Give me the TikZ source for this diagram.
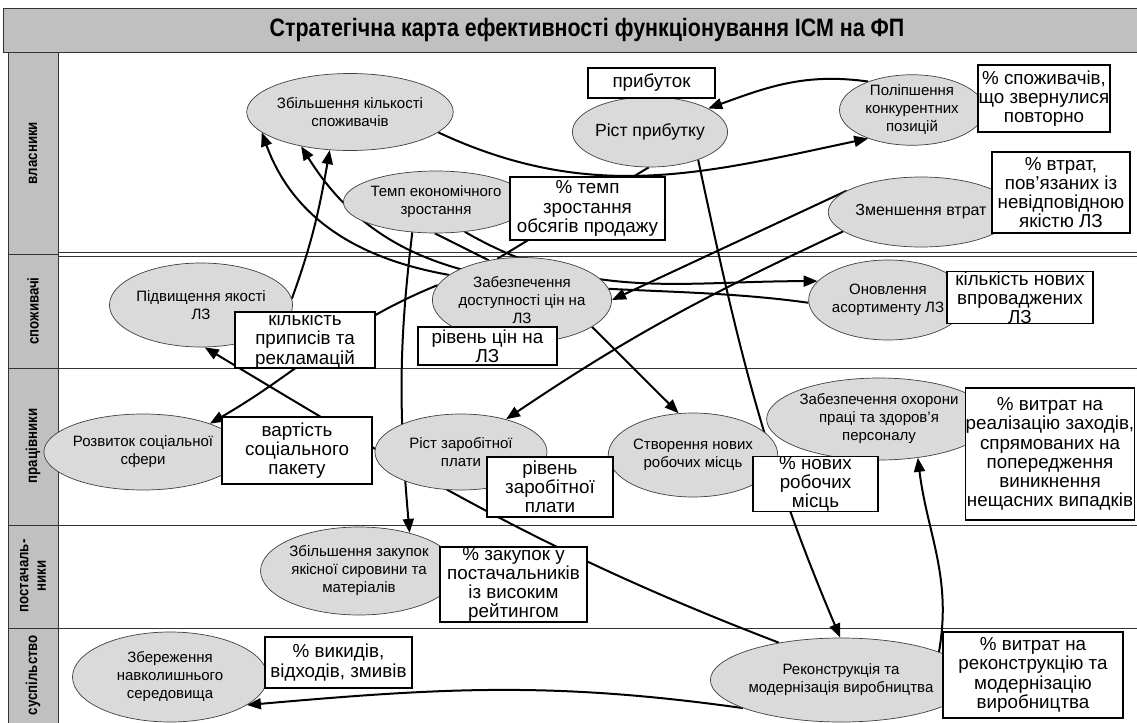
\documentclass[tikz,border=0pt]{standalone}
\usepackage{fontspec}
\setmainfont{Liberation Sans}
\newfontfamily\narrowfont[FakeStretch=0.85]{Liberation Sans}
\usetikzlibrary{arrows.meta,shapes.geometric}
\definecolor{hdr}{RGB}{192,192,192}
\definecolor{ell}{RGB}{218,218,218}
\pgfdeclarelayer{grid}
\pgfdeclarelayer{edges}
\pgfsetlayers{grid,edges,main}
\begin{document}
\begin{tikzpicture}[x=0.5pt,y=-0.5pt,
  goal/.style n args={2}{ellipse, draw=black!75, line width=0.35pt, fill=ell,
    minimum width=#1*0.5pt, minimum height=#2*0.5pt, inner sep=0pt, align=center,
    font=\fontsize{7.5}{9}\selectfont},
  kpi/.style n args={2}{rectangle, draw=black, line width=0.75pt, fill=white,
    minimum width=#1*0.5pt, minimum height=#2*0.5pt, inner sep=0pt, align=center,
    font=\fontsize{9.4}{9.6}\selectfont},
  link/.style={line width=1pt, -{Triangle[length=7pt,width=5.5pt]}},
  plain/.style={line width=1pt},
  lane/.style={font=\narrowfont\bfseries\fontsize{7.8}{8.8}\selectfont, rotate=90, align=center},
  rule/.style={draw=black!80, line width=0.5pt}
]
\useasboundingbox (0,0) rectangle (1137,723);

% ---------- grid ----------
\begin{pgfonlayer}{grid}
\fill[white] (0,0) rectangle (1137,723);
\fill[hdr] (3,8) rectangle (1137,52);
\fill[hdr] (8,52) rectangle (58,723);
\draw[rule] (3,8) -- (1137,8);
\draw[rule] (3,52) -- (1137,52);
\draw[rule] (3,8) -- (3,52);
\draw[rule] (8,52) -- (8,723);
\draw[rule] (58,52) -- (58,723);
\draw[rule] (8,254) -- (58,254);
\draw[rule] (58,252.5) -- (1137,252.5);
\draw[rule] (58,256) -- (1137,256);
\draw[rule] (8,368) -- (1137,368);
\draw[rule] (8,525) -- (1137,525);
\draw[rule] (8,628) -- (1137,628);
\end{pgfonlayer}

% ---------- title and lanes ----------
\node[font=\narrowfont\bfseries\fontsize{12.6}{14}\selectfont] (title) at (587,30)
  {Стратегічна карта ефективності функціонування ІСМ на ФП};
\node[lane] (l1) at (33,153) {власники};
\node[lane] (l2) at (33,311) {споживачі};
\node[lane] (l3) at (33,446) {працівники};
\node[lane] (l4) at (33,576) {постачаль-\\ники};
\node[lane] (l5) at (33,675) {суспільство};

% ---------- goals ----------
\node[goal={174}{77}] (zbil) at (350,112) {Збільшення кількості\\споживачів};
\node[goal={154}{70}, font=\fontsize{8.8}{10}\selectfont] (rist) at (650,132) {Ріст прибутку};
\node[goal={145}{70}] (polip) at (912,110) {Поліпшення\\конкурентних\\позицій};
\node[goal={148}{62}] (temp) at (436,202) {Темп економічного\\зростання};
\node[goal={144}{70}, font=\fontsize{8}{9}\selectfont] (zmen) at (921,212) {Зменшення втрат};
\node[goal={152}{84}] (pidv) at (201,305) {Підвищення якості\\ЛЗ};
\node[goal={151}{85}] (zabezp) at (522,300) {Забезпечення\\доступності цін на\\ЛЗ};
\node[goal={145}{80}] (onovl) at (888,300) {Оновлення\\асортименту ЛЗ};
\node[goal={170}{76}] (rozv) at (143,452) {Розвиток соціальної\\сфери};
\node[goal={172}{76}] (zarob) at (461,452) {Ріст заробітної\\плати};
\node[goal={160}{84}] (stvor) at (693,455) {Створення нових\\робочих місць};
\node[goal={178}{82}] (ohor) at (879,419) {Забезпечення охорони\\праці та здоров'я\\персоналу};
\node[goal={162}{88}] (zakup) at (359,571) {Збільшення закупок\\якісної сировини та\\матеріалів};
\node[goal={195}{90}] (zber) at (170,677) {Збереження\\навколишнього\\середовища};
\node[goal={202}{84}] (rekon) at (841,680) {Реконструкція та\\модернізація виробництва};

% ---------- indicators ----------
\node[kpi={127}{30}] (kprib) at (651.5,83) {прибуток};
\node[kpi={132}{67}] (kspozh) at (1044,98.5) {\% споживачів,\\що звернулися\\повторно};
\node[kpi={155}{63}] (ktemp) at (587.5,208.5) {\% темп\\зростання\\обсягів продажу};
\node[kpi={138}{81}] (kvtrat) at (1061,192.5) {\% втрат,\\пов'язаних із\\невідповідною\\якістю ЛЗ};
\node[kpi={146}{51}] (knovyh) at (1020,297.5) {кількість нових\\впроваджених\\ЛЗ};
\node[kpi={140}{56}] (kprypys) at (305,340) {кількість\\приписів та\\рекламацій};
\node[kpi={139}{38}] (kcin) at (487.5,346) {рівень цін на\\ЛЗ};
\node[kpi={150}{67}] (kvart) at (297,450.5) {вартість\\соціального\\пакету};
\node[kpi={126}{60}] (krzp) at (550,487) {рівень\\заробітної\\плати};
\node[kpi={125}{52}] (krob) at (815.5,484) {\% нових\\робочих\\місць};
\node[kpi={166}{132}] (kohor) at (1050,454) {\% витрат на\\реалізацію заходів,\\спрямованих на\\попередження\\виникнення\\нещасних випадків};
\node[kpi={147}{75}] (kzakup) at (513.5,584.5) {\% закупок у\\постачальників\\із високим\\рейтингом};
\node[kpi={147}{51}] (kvykyd) at (338.5,662.5) {\% викидів,\\відходів, змивів};
\node[kpi={180}{86}] (krekon) at (1033,675) {\% витрат на\\реконструкцію та\\модернізацію\\виробництва};

% ---------- connectors ----------
\begin{pgfonlayer}{edges}
\draw[link] (pidv.4) to[out=70,in=-100] (zbil.242);
\draw[link] (zabezp.161) to[out=170,in=-70] (zbil.193);
\draw[link] (onovl.182) to[out=172,in=-58] (zbil.215);
\draw[link] (zbil.-13) to[out=-25,in=192] (polip.213);
\draw[link] (polip.147) to[out=172,in=20] (rist.22);
\draw[plain] (zabezp.121) -- (rist.268);
\draw[link] (zmen.164) -- (zabezp.0);
\draw[link] (zmen.194) to[out=205,in=34] (zarob.36);
\draw[link] (zabezp.-21) -- (stvor.109);
\draw[link] (zabezp.170) to[out=202,in=30] (rozv.23);
\draw[link] (rekon.149) to[out=159,in=-31] (pidv.275);
\draw[link] (rist.-30) to[out=-78,in=113] (rekon.91);
\draw[link] (temp.232) to[out=-97,in=95] (zakup.37);
\draw[link] (temp.-46) to[out=-30,in=180] (onovl.165);
\draw[plain] (temp.268) -- (zabezp.130);
\draw[link] (rekon.16) to[out=80,in=-83] (ohor.-45);
\draw[link] (rekon.196) to[out=172,in=5] (zber.-20);
\end{pgfonlayer}
\end{tikzpicture}
\end{document}
